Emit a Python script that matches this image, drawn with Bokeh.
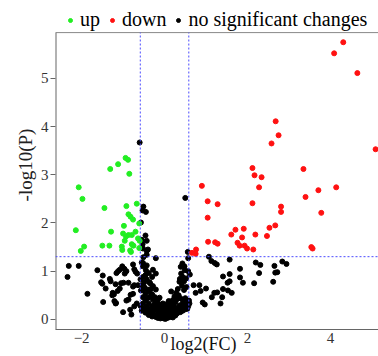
from bokeh.plotting import figure
from bokeh.models import Span, Legend, LegendItem, FixedTicker, Range1d, ColumnDataSource
from bokeh.embed import file_html
from bokeh.resources import INLINE

# ---- data (log2 fold change, -log10 P) ----
up_pts = [
    (-0.94, 3.35), (-0.88, 3.31), (-1.12, 3.22), (-1.31, 3.12), (-0.85, 3.02),
    (-2.07, 2.74), (-1.98, 2.50), (-0.92, 2.35), (-0.67, 2.40), (-1.45, 2.31),
    (-0.87, 2.18), (-0.82, 2.13), (-0.76, 2.07), (-0.98, 1.94), (-2.14, 1.85),
    (-1.29, 1.82), (-1.00, 1.78), (-0.93, 1.72), (-0.87, 1.75), (-0.79, 1.75),
    (-0.70, 1.82), (-0.61, 1.99), (-0.64, 1.68), (-0.96, 1.63), (-1.50, 1.53),
    (-1.33, 1.53), (-1.94, 1.51), (-2.02, 1.42), (-1.03, 1.51), (-1.02, 1.44),
    (-0.79, 1.56), (-0.75, 1.53), (-0.83, 1.43), (-0.81, 1.40), (-0.61, 1.48),
    (-0.60, 1.63),
]
down_pts = [
    (4.31, 5.75), (4.09, 5.52), (4.65, 5.11), (2.68, 4.11), (2.75, 3.82),
    (2.58, 3.65), (5.09, 3.53), (2.12, 3.14), (3.35, 3.12), (2.17, 2.99),
    (2.34, 2.95), (2.28, 2.74), (3.71, 2.68), (4.14, 2.74), (3.40, 2.54),
    (2.12, 2.41), (2.81, 2.34), (2.81, 2.23), (3.78, 2.21), (0.90, 2.77),
    (1.04, 2.45), (1.28, 2.39), (1.04, 2.11), (1.71, 1.86), (1.91, 1.88),
    (2.53, 1.90), (2.67, 1.95), (2.19, 1.76), (1.61, 1.76), (2.47, 1.73),
    (1.87, 1.70), (1.76, 1.59), (1.81, 1.53), (1.93, 1.53), (1.99, 1.47),
    (2.14, 1.45), (1.05, 1.61), (1.22, 1.60), (1.28, 1.57), (0.76, 1.45),
    (0.66, 1.38), (0.75, 1.36), (3.54, 1.50), (3.57, 1.47),
]
ns_pts = [
    # near thresholds / upper
    (-0.60, 3.67), (0.50, 2.52), (-0.51, 2.34), (-0.53, 2.26), (-0.45, 2.23),
    (-0.57, 2.01), (-0.46, 1.74), (-0.43, 1.63), (-0.55, 1.65), (-0.53, 1.56),
    (-0.40, 1.45), (-0.43, 1.42), (-0.52, 1.47), (-0.43, 1.34), (-0.51, 1.29),
    (-0.21, 1.27), (0.56, 1.40), (0.57, 1.27),
    # right side
    (1.07, 1.30), (1.57, 1.24), (1.13, 1.21), (1.21, 1.17), (1.26, 1.14),
    (0.43, 1.16), (0.39, 1.09), (0.49, 1.02), (2.20, 1.18), (2.31, 1.13),
    (2.84, 1.20), (2.94, 1.15), (2.65, 1.11), (1.82, 1.05), (1.57, 0.94),
    (2.28, 0.96), (2.67, 0.97), (2.72, 0.98), (2.62, 0.78), (1.41, 0.89),
    (1.82, 0.87), (2.16, 0.75), (1.57, 0.79), (1.52, 0.76), (1.89, 0.76),
    (0.37, 0.84), (0.47, 0.79), (0.61, 0.93), (0.53, 0.67), (0.70, 0.71),
    (0.84, 0.71), (1.00, 0.64), (1.41, 0.63), (1.53, 0.60), (1.62, 0.55),
    (1.27, 0.56), (1.39, 0.46), (1.14, 0.46), (0.87, 0.59), (0.75, 0.55),
    (0.47, 0.61), (1.35, 0.33), (0.92, 0.35), (0.97, 0.31), (1.20, 0.55),
    (0.55, 0.22), (0.59, 0.39),
    # left side
    (-2.31, 1.11), (-2.07, 1.11), (-2.34, 0.88), (-1.86, 0.53), (-1.62, 1.02),
    (-1.49, 0.91), (-1.53, 0.77), (-1.50, 0.74), (-1.48, 0.36), (-1.42, 0.64),
    (-1.32, 0.84), (-1.30, 0.79), (-1.16, 0.96), (-1.12, 1.00), (-1.08, 1.03),
    (-1.18, 0.73), (-1.25, 0.55), (-1.22, 0.52), (-1.21, 0.38), (-1.17, 0.34),
    (-1.08, 0.64), (-1.13, 0.59), (-1.02, 1.10), (-0.97, 1.05), (-0.92, 1.00),
    (-0.96, 0.95), (-1.05, 0.75), (-0.99, 0.76), (-0.87, 0.76), (-0.76, 1.14),
    (-0.73, 1.04), (-0.70, 0.99), (-0.66, 0.95), (-0.52, 1.17), (-0.52, 1.10),
    (-0.45, 1.02), (-0.38, 0.96), (-0.28, 1.03), (-0.21, 0.95), (-0.30, 0.88),
    (-0.36, 0.77), (-0.73, 0.71), (-0.76, 0.68), (-0.64, 0.71), (-0.82, 0.51),
    (-0.76, 0.53), (-0.92, 0.39), (-0.87, 0.41), (-1.00, 0.15), (-0.83, 0.20),
    (-0.80, 0.10), (-0.67, 0.33), (-0.73, 0.27), (-0.57, 0.60), (-0.46, 0.53),
    (-0.52, 0.46), (-0.49, 0.67), (-0.41, 0.62), (-1.26, 0.50), (-1.18, 0.33),
    # dense core
    (-0.58, 0.28), (-0.58, 0.83),
    (-0.55, 0.18), (-0.55, 0.71), (-0.55, 1.18),
    (-0.52, 0.33), (-0.52, 0.61), (-0.52, 0.88),
    (-0.49, 0.22), (-0.49, 0.77),
    (-0.46, 0.14), (-0.46, 0.39), (-0.46, 0.92),
    (-0.43, 0.27), (-0.43, 0.83), (-0.43, 1.12),
    (-0.41, 0.17), (-0.41, 0.44),
    (-0.38, 0.09), (-0.38, 0.33), (-0.38, 0.58),
    (-0.35, 0.21), (-0.35, 0.47), (-0.35, 0.75),
    (-0.33, 0.12), (-0.33, 0.63),
    (-0.30, 0.06), (-0.30, 0.26), (-0.30, 0.52),
    (-0.28, 0.17), (-0.28, 0.41), (-0.28, 0.69),
    (-0.25, 0.09), (-0.25, 0.31),
    (-0.23, 0.21), (-0.23, 0.46),
    (-0.21, 0.05), (-0.21, 0.36), (-0.21, 0.62),
    (-0.18, 0.10), (-0.18, 0.27),
    (-0.16, 0.03), (-0.16, 0.19), (-0.16, 0.41),
    (-0.14, 0.12), (-0.14, 0.32),
    (-0.12, 0.06), (-0.12, 0.24), (-0.12, 0.45),
    (-0.10, 0.02), (-0.10, 0.16),
    (-0.08, 0.09), (-0.08, 0.29),
    (-0.06, 0.04), (-0.06, 0.21),
    (-0.04, 0.12), (-0.04, 0.33),
    (-0.02, 0.02), (-0.02, 0.25),
    (0.00, 0.04), (0.00, 0.15),
    (0.02, 0.01), (0.02, 0.28),
    (0.04, 0.06), (0.04, 0.19),
    (0.06, 0.03), (0.06, 0.13), (0.06, 0.32),
    (0.08, 0.08), (0.08, 0.23),
    (0.10, 0.04), (0.10, 0.17), (0.10, 0.38),
    (0.12, 0.11), (0.12, 0.29),
    (0.14, 0.06), (0.14, 0.21),
    (0.16, 0.14), (0.16, 0.34), (0.16, 0.58),
    (0.18, 0.09), (0.18, 0.26),
    (0.20, 0.04), (0.20, 0.18), (0.20, 0.40),
    (0.22, 0.13), (0.22, 0.31),
    (0.24, 0.22), (0.24, 0.48),
    (0.26, 0.08), (0.26, 0.36),
    (0.28, 0.17), (0.28, 0.55),
    (0.30, 0.12), (0.30, 0.42),
    (0.32, 0.24), (0.32, 0.63),
    (0.34, 0.19), (0.34, 0.50),
    (0.36, 0.29), (0.36, 0.78),
    (0.38, 0.15), (0.38, 0.44),
    (0.40, 0.23), (0.40, 0.95),
    (0.42, 0.31), (0.42, 0.70),
    (0.44, 0.18), (0.44, 0.40), (0.44, 0.88),
    (0.46, 0.26),
    (0.48, 0.35), (0.48, 1.10),
    (0.50, 0.21), (0.50, 0.44),
    (0.52, 0.30), (0.52, 0.85),
    (0.54, 0.38),
    (0.57, 0.27), (0.57, 1.00),
    (0.60, 0.33),
]

x_ticks = [-2, 0, 2, 4]
y_ticks = [0, 1, 2, 3, 4, 5]
fc_cut = 0.585
p_cut = 1.301
legend_labels = ["up", "down", "no significant changes"]
colors = ["#22ee22", "#ff1111", "#000000"]

SERIF = "Liberation Serif"
X_MIN, X_MAX = -2.63, 5.16
Y_MIN, Y_TOP = -0.21, 5.95      # plotted box
Y_CANVAS_TOP = 6.616             # headroom above the box holds the legend

p = figure(width=378, height=356, output_backend="svg", toolbar_location=None,
           x_range=Range1d(X_MIN, X_MAX), y_range=Range1d(Y_MIN, Y_CANVAS_TOP),
           min_border_left=55, min_border_right=0, min_border_top=0,
           min_border_bottom=27)
p.outline_line_color = None
p.xgrid.visible = False
p.ygrid.visible = False
p.background_fill_color = "white"
p.border_fill_color = "white"

def src(pts):
    return ColumnDataSource(dict(x=[a for a, b in pts], y=[b for a, b in pts]))

r_ns = p.scatter("x", "y", source=src(ns_pts), size=5, color=colors[2])
r_up = p.scatter("x", "y", source=src(up_pts), size=5, color=colors[0])
r_dn = p.scatter("x", "y", source=src(down_pts), size=5, color=colors[1])

# box lines (left spine and top border) limited to the plotted box
p.segment(x0=[X_MIN], y0=[Y_MIN], x1=[X_MIN], y1=[Y_TOP], line_color="#666666", line_width=2)
p.segment(x0=[X_MIN], y0=[Y_TOP], x1=[X_MAX], y1=[Y_TOP], line_color="#888888", line_width=1)

# threshold lines
p.segment(x0=[-fc_cut, fc_cut], y0=[Y_MIN, Y_MIN], x1=[-fc_cut, fc_cut], y1=[Y_TOP, Y_TOP],
          line_color="#4a4aff", line_dash="2 2", line_width=1)
p.add_layout(Span(location=p_cut, dimension="width", line_color="#4a4aff",
                  line_dash="2 2", line_width=1))

for ax in (p.xaxis[0], p.yaxis[0]):
    ax.major_tick_line_color = "#666666"
    ax.minor_tick_line_color = None
    ax.major_label_text_font = SERIF
    ax.major_label_text_font_size = "15px"
    ax.major_label_text_color = "#333333"

p.xaxis.axis_line_color = "#666666"
p.yaxis.axis_line_color = None
p.xaxis.ticker = FixedTicker(ticks=x_ticks)
p.yaxis.ticker = FixedTicker(ticks=y_ticks)
p.xaxis.major_tick_out = 0
p.xaxis.major_tick_in = 0
p.xaxis.major_label_standoff = 3
# trailing no-break spaces move the centred label left, as in the source figure
p.xaxis.axis_label = "log2(FC)" + "\u00a0" * 6
p.xaxis.axis_label_text_font = SERIF
p.xaxis.axis_label_text_font_style = "normal"
p.xaxis.axis_label_text_font_size = "18px"
p.xaxis.axis_label_text_color = "#111111"
p.xaxis.axis_label_standoff = -12

p.yaxis.major_tick_out = 5
p.yaxis.major_tick_in = 0
p.yaxis.major_label_standoff = 2
p.yaxis.axis_label = "-log10(P)"
p.yaxis.axis_label_text_font = SERIF
p.yaxis.axis_label_text_font_style = "normal"
p.yaxis.axis_label_text_font_size = "19px"
p.yaxis.axis_label_text_color = "#222222"
p.yaxis.axis_label_standoff = 2

legend = Legend(items=[LegendItem(label=l, renderers=[r]) for l, r in
                       zip(legend_labels, [r_up, r_dn, r_ns])],
                orientation="horizontal", location=(10, 298),
                label_text_font=SERIF, label_text_font_size="20px",
                label_text_color="#000000", glyph_width=10, glyph_height=20,
                label_standoff=5, spacing=7, padding=0, margin=0,
                border_line_color=None, background_fill_alpha=0)
p.add_layout(legend)

open("out.html", "w").write(file_html(p, INLINE))
